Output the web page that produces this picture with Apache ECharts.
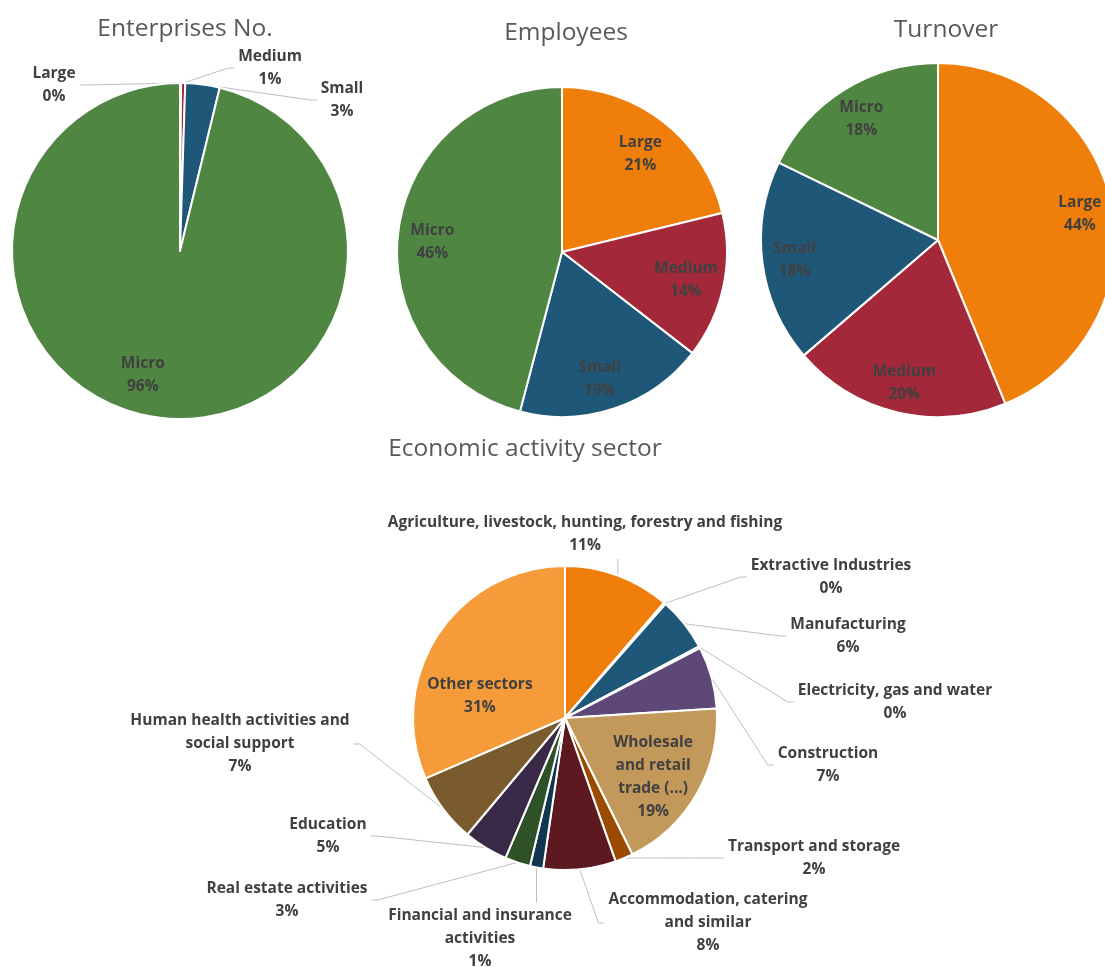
<!DOCTYPE html>
<html>
<head>
<meta charset="utf-8">
<script src="https://cdn.jsdelivr.net/npm/echarts@6/dist/echarts.min.js"></script>
<style>
html,body{margin:0;padding:0;background:#ffffff;}
#c{width:1105px;height:967px;}
</style>
</head>
<body>
<div id="c"></div>
<script>
// ---------------- DATA ----------------
const chartTitles = ['Enterprises No.', 'Employees', 'Turnover', 'Economic activity sector'];
const sizeCategories = ['Large', 'Medium', 'Small', 'Micro'];
const enterprisesValues = [0.1, 0.4, 3.3, 96.2];
const employeesValues = [21.2, 14.3, 18.6, 45.9];
const turnoverValues = [43.8, 19.9, 18.5, 17.8];
const sectorCategories = [
  'Agriculture, livestock, hunting, forestry and fishing',
  'Extractive Industries',
  'Manufacturing',
  'Electricity, gas and water',
  'Construction',
  'Wholesale\nand retail\ntrade (...)',
  'Transport and storage',
  'Accommodation, catering\nand similar',
  'Financial and insurance\nactivities',
  'Real estate activities',
  'Education',
  'Human health activities and\nsocial support',
  'Other sectors'
];
const sectorValues = [11.3, 0.2, 5.7, 0.2, 6.6, 18.7, 1.9, 7.7, 1.4, 2.7, 4.7, 7.4, 31.5];

// ---------------- STYLE / LAYOUT ----------------
const sizeColors = ['#EF7F0A', '#A2283A', '#1F5778', '#4F8641'];
const sectorColors = ['#EF7F0A', '#8C8C8C', '#1F5778', '#B0B0B0', '#5E4878', '#C2995A', '#9B4A02',
  '#5C1920', '#10374F', '#2F5128', '#3A2847', '#7A5B2D', '#F59B3A'];
const FONT = '"Open Sans", Lato, sans-serif';
const labelColor = '#404040';
const lineColor = '#BFBFBF';
const TEXT_DY = 2;

// label block centres for outside labels, keyed by data index
const entLabelCenters = { 0: [54, 83], 1: [270, 66], 2: [342, 98] };
const sectorLabelCenters = {
  0: [585, 532], 1: [831, 575], 2: [848, 634], 3: [895, 700], 4: [828, 763],
  6: [814, 856], 7: [708, 921], 8: [480, 937], 9: [287, 898], 10: [328, 834], 11: [240, 742]
};
// small shifts of inside labels, keyed by data index
const entInsideNudge = { 3: [-22, -4] };
const empInsideNudge = { 2: [-3, 5], 3: [-4, 4] };
const sectorInsideNudge = { 5: [0, 6], 12: [0, 32] };

function placeLabels(centers) {
  return function (p) {
    const c0 = centers[p.dataIndex];
    if (!c0) return {};
    const c = [c0[0], c0[1] + TEXT_DY];
    const w = p.labelRect.width, h = p.labelRect.height;
    const left = c[0] - w / 2, right = c[0] + w / 2, top = c[1] - h / 2, bottom = c[1] + h / 2;
    const out = { x: c[0], y: c[1], align: 'center', verticalAlign: 'middle' };
    const pts = p.labelLinePoints;
    if (pts && pts.length) {
      const p0 = pts[0];
      let end, bend;
      if (p0[0] < left - 2) { end = [left - 4, c[1]]; bend = [left - 10, c[1]]; }
      else if (p0[0] > right + 2) { end = [right + 4, c[1]]; bend = [right + 10, c[1]]; }
      else if (p0[1] < top) { end = [p0[0], top - 2]; bend = end; }
      else { end = [p0[0], bottom + 2]; bend = end; }
      out.labelLinePoints = [p0, bend, end];
    }
    return out;
  };
}

function nudgeLabels(nudges) {
  return function (p) {
    const d = nudges[p.dataIndex] || [0, 0];
    return { dx: d[0], dy: d[1] + TEXT_DY };
  };
}

const baseLabel = {
  color: labelColor, fontFamily: FONT, fontWeight: 'bold', fontSize: 15.5, lineHeight: 23,
  formatter: '{b}\n{d}%'
};

function mainPie(names, values, colors, center, radius, outsideSet, centers) {
  return {
    type: 'pie', center: center, radius: radius, startAngle: 90, clockwise: true,
    avoidLabelOverlap: false, silent: true, percentPrecision: 0,
    itemStyle: { borderColor: '#ffffff', borderWidth: 2 },
    label: Object.assign({}, baseLabel, { show: true, position: 'outside' }),
    labelLine: { show: true, length: 10, length2: 10, smooth: false, lineStyle: { color: lineColor, width: 1 } },
    labelLayout: centers ? placeLabels(centers) : undefined,
    data: names.map((n, i) => ({
      name: n, value: values[i],
      itemStyle: { color: colors[i] },
      label: { show: outsideSet.indexOf(i) >= 0 },
      labelLine: { show: outsideSet.indexOf(i) >= 0 }
    }))
  };
}

function insidePie(names, values, center, radius, innerRatio, insideSet, nudges) {
  return {
    type: 'pie', center: center, radius: [radius * innerRatio, radius], startAngle: 90, clockwise: true,
    avoidLabelOverlap: false, silent: true, percentPrecision: 0, z: 5,
    itemStyle: { color: 'rgba(0,0,0,0)', borderWidth: 0 },
    label: Object.assign({}, baseLabel, { show: true, position: 'inside' }),
    labelLine: { show: false },
    labelLayout: nudgeLabels(nudges || {}),
    emphasis: { disabled: true },
    data: names.map((n, i) => ({
      name: n, value: values[i],
      label: { show: insideSet.indexOf(i) >= 0 }
    }))
  };
}

const titleStyle = { fontFamily: FONT, fontSize: 24.5, fontWeight: 'normal', color: '#595959' };

const option = {
  backgroundColor: '#ffffff',
  animation: false,
  title: [
    { text: chartTitles[0], left: 185, top: 17, textAlign: 'center', padding: 0, textStyle: titleStyle },
    { text: chartTitles[1], left: 566, top: 21, textAlign: 'center', padding: 0, textStyle: titleStyle },
    { text: chartTitles[2], left: 946, top: 18, textAlign: 'center', padding: 0, textStyle: titleStyle },
    { text: chartTitles[3], left: 525, top: 437, textAlign: 'center', padding: 0, textStyle: titleStyle }
  ],
  series: [
    mainPie(sizeCategories, enterprisesValues, sizeColors, [180, 251], 168, [0, 1, 2], entLabelCenters),
    insidePie(sizeCategories, enterprisesValues, [180, 251], 168, 0.48, [3], entInsideNudge),
    mainPie(sizeCategories, employeesValues, sizeColors, [562, 252], 165, [], null),
    insidePie(sizeCategories, employeesValues, [562, 252], 165, 0.5, [0, 1, 2, 3], empInsideNudge),
    mainPie(sizeCategories, turnoverValues, sizeColors, [938, 240], 177, [], null),
    insidePie(sizeCategories, turnoverValues, [938, 240], 177, 0.6, [0, 1, 2, 3], null),
    mainPie(sectorCategories, sectorValues, sectorColors, [565, 718], 152,
      [0, 1, 2, 3, 4, 6, 7, 8, 9, 10, 11], sectorLabelCenters),
    insidePie(sectorCategories, sectorValues, [565, 718], 152, 0.3, [5, 12], sectorInsideNudge)
  ]
};

const chart = echarts.init(document.getElementById('c'), null, { renderer: 'canvas' });
chart.setOption(option);
</script>
</body>
</html>
